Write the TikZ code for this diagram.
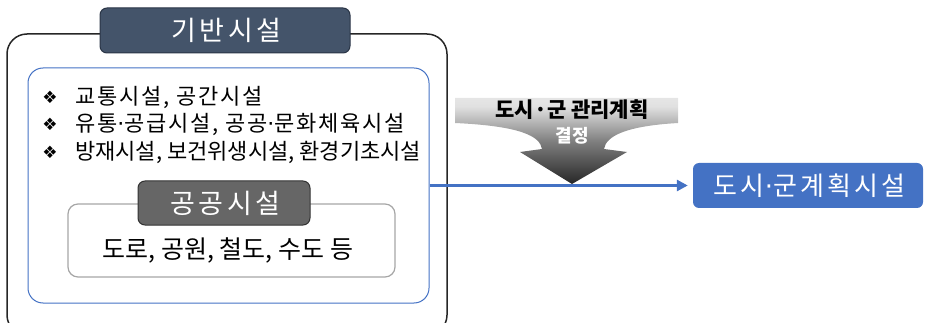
\documentclass[tikz,border=0pt]{standalone}
\usepackage{fontspec}
\setmainfont{Noto Sans CJK KR}
\newfontfamily\djv{DejaVu Sans}
\newcommand{\mdot}{{\djv ·}}
\usetikzlibrary{arrows.meta}
\definecolor{navy}{HTML}{44546A}
\definecolor{navyline}{HTML}{2A3546}
\definecolor{greyfill}{HTML}{666666}
\definecolor{bluemain}{HTML}{4472C4}
\definecolor{boxgrey}{HTML}{A6A6A6}
\pgfdeclareverticalshading{arrowshade}{100bp}{color(0bp)=(black); color(25bp)=(black!85); color(50bp)=(black!50); color(70bp)=(black!12); color(100bp)=(white)}
\tikzset{
  box/.style={draw, rectangle, inner sep=0pt},
  titlebox/.style={rectangle, rounded corners=7pt, line width=1pt, text=white, inner sep=0pt, font=\fontsize{27}{29}\selectfont\addfontfeature{LetterSpace=13}},
  bullettext/.style={anchor=west, inner sep=0pt, font=\fontsize{22}{24}\selectfont},
  spacedtext/.style={bullettext, font=\fontsize{22}{24}\selectfont\addfontfeature{LetterSpace=8}},
  bulletmark/.style={inner sep=0pt, font=\djv\fontsize{17}{18}\selectfont},
}
\begin{document}
\begin{tikzpicture}[x=1pt, y=-1pt]
\useasboundingbox (0,0) rectangle (926,323);
\clip (0,0) rectangle (926,323);
% outer box
\node[box, draw=black!85, line width=1.5pt, rounded corners=20pt, minimum width=440pt, minimum height=301pt] (outer) at (227,184.5) {};
% title
\node[titlebox, fill=navy, draw=navyline, minimum width=250pt, minimum height=45pt] (title) at (225,30.5) {\hspace{3pt}기반시설};
% inner blue box
\node[box, draw=bluemain, line width=1pt, rounded corners=15pt, minimum width=401pt, minimum height=235pt] (inner) at (228.5,185.5) {};
% bullets
\node[bulletmark] (b1) at (50,97) {❖};
\node[bulletmark] (b2) at (50,124) {❖};
\node[bulletmark] (b3) at (50,152) {❖};
\node[spacedtext] (t1) at (75,97) {교통시설, 공간시설};
\node[spacedtext] (t2) at (75,124) {유통\mdot 공급시설, 공공\mdot 문화체육시설};
\node[bullettext] (t3) at (75,152) {방재시설, 보건위생시설, 환경기초시설};
% public facilities
\node[box, draw=boxgrey, line width=1.2pt, rounded corners=10pt, minimum width=327pt, minimum height=73pt] (pub) at (231.5,240.5) {};
\node[titlebox, fill=greyfill, draw=black!80, minimum width=172pt, minimum height=44pt] (pubtitle) at (224,203) {\hspace{3pt}공공시설};
\node[inner sep=0pt, font=\fontsize{25}{27}\selectfont] (pubtext) at (228,250) {도로, 공원, 철도, 수도 등};
% target
\node[rectangle, rounded corners=6pt, fill=bluemain, text=white, inner sep=0pt, minimum width=230pt, minimum height=45pt, font=\fontsize{26}{28}\selectfont\addfontfeature{LetterSpace=12}] (target) at (808,185.5) {\hspace{3pt}도시\mdot 군계획시설};
% gradient arrow
\shade[shading=arrowshade] (455,98) -- (455,123) .. controls (520,126) and (540,136) .. (542,149)
  -- (520,152) -- (572,184) -- (627,152) -- (604,149)
  .. controls (606,136) and (626,126) .. (678,123) -- (678,98) -- cycle;
\node[inner sep=0pt, font=\bfseries\fontsize{21}{23}\selectfont] (dec1) at (572,110) {도시·군 관리계획};
\node[inner sep=0pt, text=white, font=\bfseries\fontsize{18}{20}\selectfont] (dec2) at (572,136) {결정};
% connector
\draw[bluemain, line width=3.5pt, -{Triangle[length=11pt,width=11pt]}, shorten >=5pt] (inner.east |- target.west) -- (target.west);
\end{tikzpicture}
\end{document}
